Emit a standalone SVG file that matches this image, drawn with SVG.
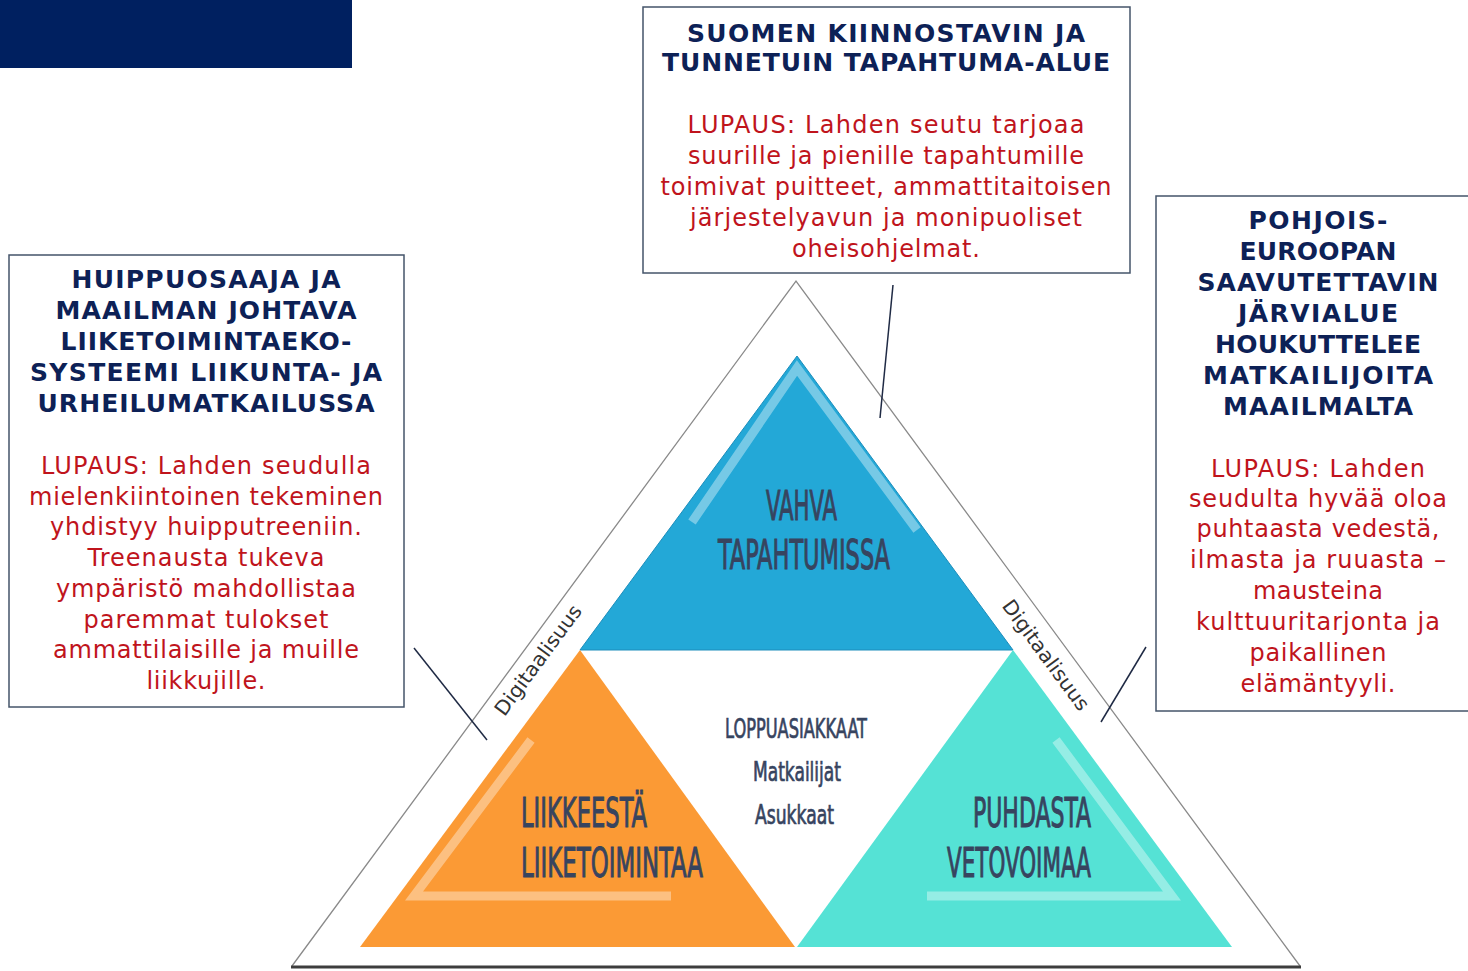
<svg xmlns="http://www.w3.org/2000/svg" width="1468" height="971" viewBox="0 0 1468 971">
<style>
.box{fill:#fff;stroke:#44546a;stroke-width:1.5}
.hd{font-family:"DejaVu Sans","Liberation Sans",sans-serif;font-weight:bold;font-size:25px;fill:#0d2156;text-anchor:middle}
.bd{font-family:"DejaVu Sans","Liberation Sans",sans-serif;font-size:24px;fill:#c0141c;text-anchor:middle}
.lbl{font-family:"Liberation Sans Narrow","DejaVu Sans Condensed",sans-serif;font-size:40px;fill:#37445f;stroke:#37445f;stroke-width:1}
.sm{font-family:"Liberation Sans Narrow","DejaVu Sans Condensed",sans-serif;font-size:26px;fill:#37445f;stroke:#37445f;stroke-width:0.7}
.dig{font-family:"Liberation Sans Narrow","DejaVu Sans Condensed",sans-serif;font-size:20px;fill:#333;text-anchor:middle}
.hl{fill:none;stroke:#fff;stroke-opacity:0.38;stroke-width:9}
.conn{stroke:#1f2a44;stroke-width:1.5;fill:none}
</style>
<rect width="1468" height="971" fill="#fff"/>
<rect x="0" y="0" width="352" height="68" fill="#002060"/>

<g id="pyramid">
  <polyline points="292,966 796,281 1300,966" fill="none" stroke="#8a8a8a" stroke-width="1.3"/>
  <line x1="291" y1="967" x2="1301" y2="967" stroke="#3d3d3d" stroke-width="3"/>
</g>

<g id="node-vahva">
  <polygon points="797,356 580,650 1013,650" fill="#23a8d7" stroke="#1c8dbb" stroke-width="1"/>
  <polyline class="hl" points="692,522 797,368 917,530"/>
  <text class="lbl" x="766" y="520" textLength="71" lengthAdjust="spacingAndGlyphs">VAHVA</text>
  <text class="lbl" x="718" y="569" textLength="172" lengthAdjust="spacingAndGlyphs">TAPAHTUMISSA</text>
</g>

<g id="node-liikkeesta">
  <polygon points="580,650 360,947 795,947" fill="#fb9a35"/>
  <polyline class="hl" points="531,740 414,896 671,896"/>
  <text class="lbl" x="521" y="827" textLength="126" lengthAdjust="spacingAndGlyphs">LIIKKEESTÄ</text>
  <text class="lbl" x="521" y="877" textLength="182" lengthAdjust="spacingAndGlyphs">LIIKETOIMINTAA</text>
</g>

<g id="node-puhdasta">
  <polygon points="1013,650 797,947 1232,947" fill="#55e2d5"/>
  <polyline class="hl" points="1056,740 1172,896 927,896"/>
  <text class="lbl" x="973" y="827" textLength="118" lengthAdjust="spacingAndGlyphs">PUHDASTA</text>
  <text class="lbl" x="947" y="877" textLength="144" lengthAdjust="spacingAndGlyphs">VETOVOIMAA</text>
</g>

<g id="node-loppuasiakkaat">
  <text class="sm" x="725" y="738" textLength="142" lengthAdjust="spacingAndGlyphs">LOPPUASIAKKAAT</text>
  <text class="sm" x="753" y="781" textLength="88" lengthAdjust="spacingAndGlyphs">Matkailijat</text>
  <text class="sm" x="755" y="824" textLength="79" lengthAdjust="spacingAndGlyphs">Asukkaat</text>
</g>

<g id="node-digi-left">
  <text class="dig" transform="translate(538,660) rotate(-53.6)" y="7" textLength="132" lengthAdjust="spacingAndGlyphs">Digitaalisuus</text>
</g>
<g id="node-digi-right">
  <text class="dig" transform="translate(1046,655) rotate(53.6)" y="7" textLength="132" lengthAdjust="spacingAndGlyphs">Digitaalisuus</text>
</g>

<g id="connectors">
  <line class="conn" x1="893" y1="285" x2="880" y2="418"/>
  <line class="conn" x1="414" y1="648" x2="487" y2="740"/>
  <line class="conn" x1="1146" y1="647" x2="1101" y2="722"/>
</g>

<g id="box-top">
  <rect class="box" x="643" y="7" width="487" height="266"/>
  <text class="hd" x="886" y="42" textLength="398">SUOMEN KIINNOSTAVIN JA</text>
  <text class="hd" x="886" y="71" textLength="448">TUNNETUIN TAPAHTUMA-ALUE</text>
  <text class="bd" x="886" y="133" textLength="397">LUPAUS: Lahden seutu tarjoaa</text>
  <text class="bd" x="886" y="164" textLength="396">suurille ja pienille tapahtumille</text>
  <text class="bd" x="886" y="195" textLength="451">toimivat puitteet, ammattitaitoisen</text>
  <text class="bd" x="886" y="226" textLength="392">järjestelyavun ja monipuoliset</text>
  <text class="bd" x="886" y="257" textLength="188">oheisohjelmat.</text>
</g>

<g id="box-left">
  <rect class="box" x="9" y="255" width="395" height="452"/>
  <text class="hd" x="206" y="288" textLength="269">HUIPPUOSAAJA JA</text>
  <text class="hd" x="206" y="319" textLength="301">MAAILMAN JOHTAVA</text>
  <text class="hd" x="206" y="350" textLength="291">LIIKETOIMINTAEKO-</text>
  <text class="hd" x="206" y="381" textLength="352">SYSTEEMI LIIKUNTA- JA</text>
  <text class="hd" x="206" y="412" textLength="337">URHEILUMATKAILUSSA</text>
  <text class="bd" x="206" y="474" textLength="330">LUPAUS: Lahden seudulla</text>
  <text class="bd" x="206" y="505" textLength="354">mielenkiintoinen tekeminen</text>
  <text class="bd" x="206" y="535" textLength="312">yhdistyy huipputreeniin.</text>
  <text class="bd" x="206" y="566" textLength="237">Treenausta tukeva</text>
  <text class="bd" x="206" y="597" textLength="300">ympäristö mahdollistaa</text>
  <text class="bd" x="206" y="628" textLength="245">paremmat tulokset</text>
  <text class="bd" x="206" y="658" textLength="306">ammattilaisille ja muille</text>
  <text class="bd" x="206" y="689" textLength="119">liikkujille.</text>
</g>

<g id="box-right">
  <rect class="box" x="1156" y="196" width="320" height="515"/>
  <text class="hd" x="1318" y="229" textLength="139">POHJOIS-</text>
  <text class="hd" x="1318" y="260" textLength="157">EUROOPAN</text>
  <text class="hd" x="1318" y="291" textLength="241">SAAVUTETTAVIN</text>
  <text class="hd" x="1318" y="322" textLength="160">JÄRVIALUE</text>
  <text class="hd" x="1318" y="353" textLength="206">HOUKUTTELEE</text>
  <text class="hd" x="1318" y="384" textLength="230">MATKAILIJOITA</text>
  <text class="hd" x="1318" y="415" textLength="190">MAAILMALTA</text>
  <text class="bd" x="1318" y="477" textLength="214">LUPAUS: Lahden</text>
  <text class="bd" x="1318" y="507" textLength="258">seudulta hyvää oloa</text>
  <text class="bd" x="1318" y="537" textLength="243">puhtaasta vedestä,</text>
  <text class="bd" x="1318" y="568" textLength="256">ilmasta ja ruuasta –</text>
  <text class="bd" x="1318" y="599" textLength="130">mausteina</text>
  <text class="bd" x="1318" y="630" textLength="244">kulttuuritarjonta ja</text>
  <text class="bd" x="1318" y="661" textLength="137">paikallinen</text>
  <text class="bd" x="1318" y="692" textLength="155">elämäntyyli.</text>
</g>
</svg>
